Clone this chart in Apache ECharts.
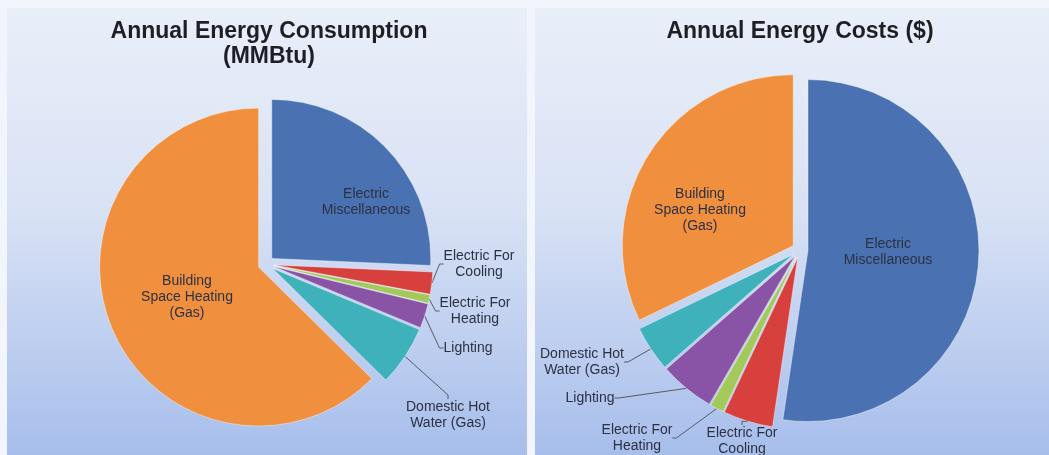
<!DOCTYPE html>
<html>
<head>
<meta charset="utf-8">
<script src="https://cdn.jsdelivr.net/npm/echarts@6/dist/echarts.min.js"></script>
<style>
  html, body { margin: 0; padding: 0; background: #f3f5fc; }
  #chart { width: 1049px; height: 455px; }
</style>
</head>
<body>
<div id="chart"></div>
<script>
// categories, clockwise from 12 o'clock
var categories = [
    'Electric\nMiscellaneous',
    'Electric For\nCooling',
    'Electric For\nHeating',
    'Lighting',
    'Domestic Hot\nWater (Gas)',
    'Building\nSpace Heating\n(Gas)'
];
// shares (percent)
var consumption = [25.7, 2.25, 0.83, 2.5, 6.1, 62.6];
var costs = [52.4, 4.7, 1.3, 5.2, 4.3, 32.2];
var colors = ['#4a72b2', '#d8403e', '#a3c95a', '#8a54a6', '#3fb1bb', '#f0903e'];
var innerLabels = [0, 5];

// label centres, per chart
var leftLabelPos = [[366, 202], [479, 264], [475, 311], [468, 348], [448, 415], [187, 297]];
var rightLabelPos = [[888, 252], [742, 441], [637, 438], [590, 398], [582, 362], [700, 210]];

var EXPLODE = 8;

var chartDom = document.getElementById('chart');
var myChart = echarts.init(chartDom);

// one pie per slice so each slice can be pulled out from the centre
function explodedPie(values, center, radius, labelPos) {
    var total = values.reduce(function (a, b) { return a + b; }, 0);
    var cum = 0;
    return values.map(function (v, i) {
        var startDeg = 360 * cum / total;
        var midRad = (360 * (cum + v / 2) / total) * Math.PI / 180;
        cum += v;
        var inner = innerLabels.indexOf(i) >= 0;
        var c = [center[0] + EXPLODE * Math.sin(midRad), center[1] - EXPLODE * Math.cos(midRad)];
        return {
            type: 'pie',
            name: categories[i],
            center: c,
            radius: radius,
            startAngle: 90 - startDeg,
            clockwise: true,
            avoidLabelOverlap: false,
            animation: false,
            emphasis: { disabled: true },
            itemStyle: { borderColor: 'rgba(255,255,255,0.5)', borderWidth: 0.8 },
            label: {
                show: true,
                position: inner ? 'inner' : 'outside',
                formatter: '{b}',
                fontFamily: 'Liberation Sans',
                fontSize: 14,
                lineHeight: 16,
                color: '#2c3142',
                align: 'center'
            },
            labelLine: {
                show: !inner,
                length: 6,
                length2: 4,
                lineStyle: { color: '#565b66', width: 1 }
            },
            labelLayout: function () {
                var p = labelPos[i];
                return { x: p[0], y: p[1], align: 'center', verticalAlign: 'middle' };
            },
            data: [
                { name: categories[i], value: v, itemStyle: { color: colors[i] } },
                {
                    name: '', value: total - v,
                    itemStyle: { color: 'rgba(0,0,0,0)', borderWidth: 0 },
                    label: { show: false }, labelLine: { show: false }, silent: true
                }
            ]
        };
    });
}

var panelFill = new echarts.graphic.LinearGradient(0, 0, 0, 1, [
    { offset: 0, color: '#e9eff9' },
    { offset: 0.45, color: '#d9e2f5' },
    { offset: 1, color: '#a7beeb' }
]);

var titleStyle = { fontFamily: 'Liberation Sans', fontSize: 23, fontWeight: 'bold', lineHeight: 25, color: '#1e1e24' };

var option = {
    backgroundColor: '#f3f5fc',
    title: [{
        text: 'Annual Energy Consumption\n(MMBtu)',
        left: 264,
        top: 14,
        textAlign: 'center',
        textStyle: titleStyle
    }, {
        text: 'Annual Energy Costs ($)',
        left: 795,
        top: 14,
        textAlign: 'center',
        textStyle: titleStyle
    }],
    graphic: [
        { type: 'rect', z: -10, silent: true, shape: { x: 7, y: 8, width: 520, height: 447 }, style: { fill: panelFill } },
        { type: 'rect', z: -10, silent: true, shape: { x: 535, y: 8, width: 514, height: 447 }, style: { fill: panelFill } }
    ],
    series: explodedPie(consumption, [266, 264], 159, leftLabelPos)
        .concat(explodedPie(costs, [800, 250], 171, rightLabelPos))
};

myChart.setOption(option);

window.addEventListener('resize', function () {
    myChart.resize();
});
</script>
</body>
</html>
